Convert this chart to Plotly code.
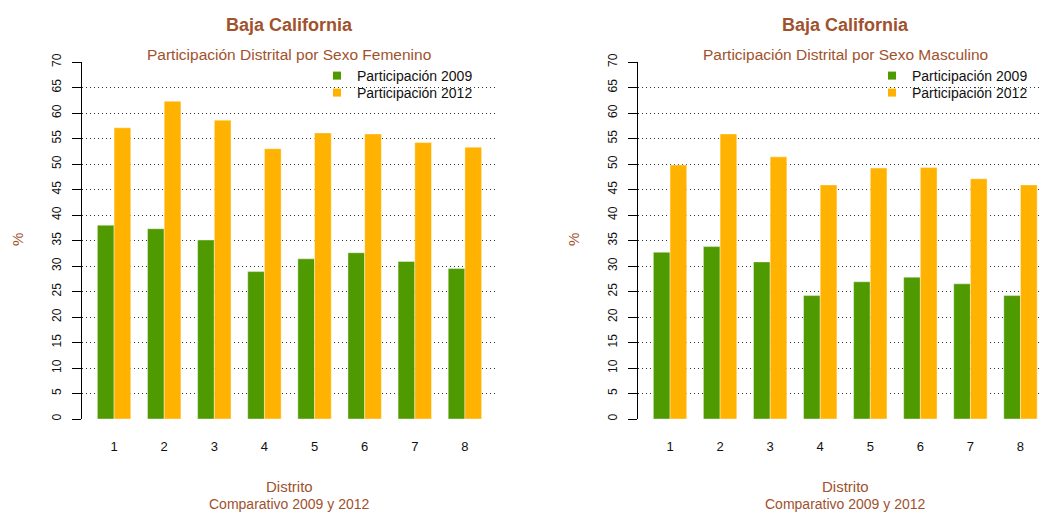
import plotly.graph_objects as go

distritos = [1, 2, 3, 4, 5, 6, 7, 8]
fem_2009 = [38.0, 37.3, 35.1, 28.9, 31.4, 32.6, 30.9, 29.5]
fem_2012 = [57.1, 62.3, 58.6, 53.0, 56.1, 55.9, 54.2, 53.3]
mas_2009 = [32.7, 33.8, 30.8, 24.2, 26.9, 27.8, 26.5, 24.2]
mas_2012 = [49.8, 55.9, 51.4, 45.9, 49.2, 49.3, 47.1, 45.9]
y_ticks = list(range(0, 75, 5))
series_names = ["Participación 2009", "Participación 2012"]

GREEN = "#4E9A00"
ORANGE = "#FFB300"
BROWN = "#A0522D"
FONT = "Liberation Sans, Arial, sans-serif"
W, H = 1040, 513

def px_x(p):
    return p / W

def px_y(p):
    return 1 - p / H

fig = go.Figure()
for xa, ya, v09, v12 in [("x", "y", fem_2009, fem_2012), ("x2", "y2", mas_2009, mas_2012)]:
    fig.add_trace(go.Bar(x=distritos, y=v09, xaxis=xa, yaxis=ya, marker_color=GREEN,
                         marker_line=dict(color="rgba(255,255,255,0.5)", width=0.8),
                         showlegend=False, offsetgroup="a"))
    fig.add_trace(go.Bar(x=distritos, y=v12, xaxis=xa, yaxis=ya, marker_color=ORANGE,
                         marker_line=dict(color="rgba(255,255,255,0.5)", width=0.8),
                         showlegend=False, offsetgroup="b"))

# legend entries (one legend per row so spacing matches)
legend_names = ["legend", "legend2", "legend3", "legend4"]
li = 0
for panel in range(2):
    for name, col in zip(series_names, [GREEN, ORANGE]):
        fig.add_trace(go.Scatter(x=[None], y=[None], mode="markers", name=name,
                                 marker=dict(symbol="square", size=8, color=col),
                                 legend=legend_names[li], showlegend=True,
                                 xaxis="x" if panel == 0 else "x2",
                                 yaxis="y" if panel == 0 else "y2"))
        li += 1

ydom = [px_y(419), px_y(62)]
yaxis_common = dict(range=[0, 70], domain=ydom, tickvals=y_ticks, ticks="outside", ticklen=9,
                    tickcolor="black", tickwidth=1, showline=True, linecolor="black", linewidth=1,
                    showgrid=True, gridcolor="#333333", griddash="1px,3px", gridwidth=1,
                    zeroline=False, tickangle=-90, tickfont=dict(family=FONT, size=12, color="#111"),
                    ticklabelstandoff=6, automargin=False, fixedrange=True)
xaxis_common = dict(tickvals=distritos, ticktext=[str(d) for d in distritos], ticks="",
                    showline=False, showgrid=False, zeroline=False,
                    tickfont=dict(family=FONT, size=13, color="#111"),
                    ticklabelstandoff=18, automargin=False, fixedrange=True)

leg_common = dict(bgcolor="rgba(0,0,0,0)", borderwidth=0, font=dict(family=FONT, size=14, color="#111"),
                  xanchor="left", yanchor="middle", itemwidth=30)

fig.update_layout(
    width=W, height=H, margin=dict(l=0, r=0, t=0, b=0),
    paper_bgcolor="white", plot_bgcolor="white",
    barmode="group", bargap=1/3, bargroupgap=0,
    xaxis=dict(xaxis_common, domain=[px_x(82), px_x(497)], range=[0.36, 8.64], anchor="y"),
    xaxis2=dict(xaxis_common, domain=[px_x(638), 1.0], range=[0.36, 8.39], anchor="y2"),
    yaxis=dict(yaxis_common, anchor="x"),
    yaxis2=dict(yaxis_common, anchor="x2"),
    legend=dict(leg_common, x=px_x(317), y=px_y(76)),
    legend2=dict(leg_common, x=px_x(317), y=px_y(93)),
    legend3=dict(leg_common, x=px_x(872), y=px_y(76)),
    legend4=dict(leg_common, x=px_x(872), y=px_y(93)),
    showlegend=True,
)

subtitles = ["Participación Distrital por Sexo Femenino", "Participación Distrital por Sexo Masculino"]
centers = [289, 845]
pct_x = [17, 573]
for c, sub, px in zip(centers, subtitles, pct_x):
    fig.add_annotation(text="<b>Baja California</b>", x=px_x(c), y=px_y(25), xref="paper", yref="paper",
                       showarrow=False, font=dict(family=FONT, size=18, color=BROWN), xanchor="center", yanchor="middle")
    fig.add_annotation(text=sub, x=px_x(c), y=px_y(54), xref="paper", yref="paper",
                       showarrow=False, font=dict(family=FONT, size=15.5, color=BROWN), xanchor="center", yanchor="middle")
    fig.add_annotation(text="Distrito", x=px_x(c), y=px_y(486), xref="paper", yref="paper",
                       showarrow=False, font=dict(family=FONT, size=15, color=BROWN), xanchor="center", yanchor="middle")
    fig.add_annotation(text="Comparativo 2009 y 2012", x=px_x(c), y=px_y(504), xref="paper", yref="paper",
                       showarrow=False, font=dict(family=FONT, size=14, color=BROWN), xanchor="center", yanchor="middle")
    fig.add_annotation(text="%", x=px_x(px), y=px_y(240), xref="paper", yref="paper", textangle=-90,
                       showarrow=False, font=dict(family=FONT, size=15, color=BROWN), xanchor="center", yanchor="middle")

fig.write_html("out.html", config={"displayModeBar": False, "staticPlot": False},
               post_script="document.body.style.margin='0';document.body.style.padding='0';document.body.style.overflow='hidden';")
